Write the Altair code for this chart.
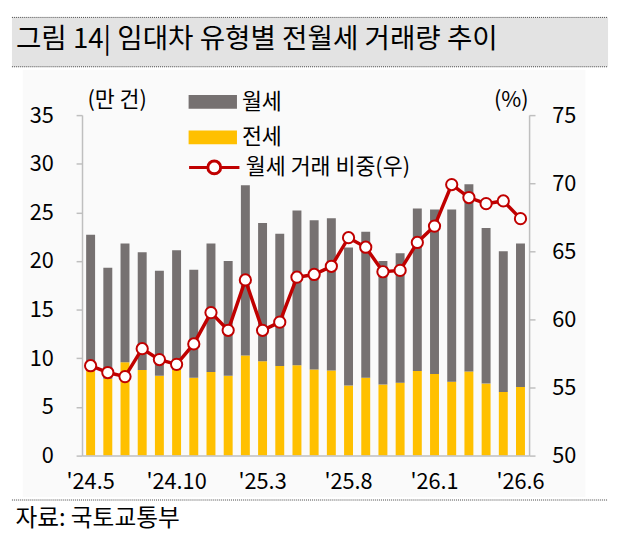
import altair as alt
import pandas as pd

FONT = "Noto Sans CJK KR"
GRAY = "#767171"
YELLOW = "#FFC000"
RED = "#C00000"
AXIS_GRAY = "#BFBFBF"

months = ["'24.5", "'24.6", "'24.7", "'24.8", "'24.9", "'24.10", "'24.11", "'24.12",
          "'25.1", "'25.2", "'25.3", "'25.4", "'25.5", "'25.6", "'25.7", "'25.8",
          "'25.9", "'25.10", "'25.11", "'25.12",
          "'26.1", "'26.2", "'26.3", "'26.4", "'26.5", "'26.6"]

# 전세 거래량 (만 건)
jeonse = [8.7, 7.9, 9.6, 8.8, 8.2, 8.8, 8.0, 8.6, 8.2, 10.3, 9.7, 9.2, 9.3,
          8.85, 8.75, 7.2, 8.0, 7.3, 7.5, 8.7, 8.4, 7.6, 8.65, 7.4, 6.55, 7.05]
# 월세 거래량 (만 건)
wolse = [14.0, 11.4, 12.2, 12.1, 10.8, 12.3, 11.1, 13.2, 11.8, 17.5, 14.2, 13.6, 15.9,
         15.35, 15.65, 14.2, 15.0, 12.7, 13.3, 16.7, 16.9, 17.7, 19.25, 16.0, 14.45, 14.75]
# 월세 거래 비중 (%)
share = [56.6, 56.1, 55.8, 57.85, 57.05, 56.7, 58.2, 60.5, 59.2, 62.9, 59.2, 59.8, 63.1,
         63.3, 63.9, 66.0, 65.3, 63.5, 63.6, 65.65, 66.85, 69.9, 68.95, 68.5, 68.7, 67.4]

tick_months = ["'24.5", "'24.10", "'25.3", "'25.8", "'26.1", "'26.6"]
left_ticks = [0, 5, 10, 15, 20, 25, 30, 35]
right_ticks = [50, 55, 60, 65, 70, 75]
series_names = ["월세", "전세"]
line_name = "월세 거래 비중(우)"

rows = []
for m, j, w in zip(months, jeonse, wolse):
    rows.append({"month": m, "type": "전세", "value": j, "ord": 0})
    rows.append({"month": m, "type": "월세", "value": w, "ord": 1})
df_bar = pd.DataFrame(rows)
df_line = pd.DataFrame({"month": months, "share": share, "series": [line_name] * len(months)})
one = pd.DataFrame({"d": [0]})

x_enc = alt.X(
    "month:N", sort=months,
    scale=alt.Scale(paddingInner=0.48, paddingOuter=0.24),
    axis=alt.Axis(values=tick_months, labelAngle=0, labelFontSize=22, labelPadding=16,
                  labelColor="black", ticks=False, domainColor=AXIS_GRAY, domainWidth=1.5,
                  zindex=1,
                  title="자료: 국토교통부", titleX=-68, titleY=64, titleAlign="left",
                  titleBaseline="middle", titleFontSize=24, titleFontWeight="normal",
                  titleColor="black"),
)

bg = alt.Chart(one).mark_rect(color="#FAFAFA").encode(
    x=alt.value(-60), x2=alt.value(510), y=alt.value(-46), y2=alt.value(387))
band = alt.Chart(one).mark_rect(color="#E3E3E3").encode(
    x=alt.value(-71), x2=alt.value(533), y=alt.value(-99), y2=alt.value(-49))
rule_top = alt.Chart(one).mark_rule(color="#444444", strokeDash=[1, 1], strokeWidth=1).encode(
    x=alt.value(-71), x2=alt.value(533), y=alt.value(-99))
rule_mid = alt.Chart(one).mark_rule(color="#444444", strokeDash=[1, 1], strokeWidth=1).encode(
    x=alt.value(-71), x2=alt.value(533), y=alt.value(-49))
rule_bot = alt.Chart(one).mark_rule(color="#444444", strokeDash=[1, 1], strokeWidth=1).encode(
    x=alt.value(-71), x2=alt.value(533), y=alt.value(390))

bars = alt.Chart(df_bar).mark_bar().encode(
    x=x_enc,
    y=alt.Y("value:Q", stack="zero",
            scale=alt.Scale(domain=[0, 35], nice=False),
            axis=alt.Axis(values=left_ticks, grid=False, labelFontSize=22, labelPadding=23,
                          labelColor="black", tickSize=6, tickColor=AXIS_GRAY, tickWidth=1.5,
                          domainColor=AXIS_GRAY, domainWidth=1.5, zindex=1,
                          title="(만 건)", titleAngle=0, titleX=5, titleY=-16,
                          titleAlign="left", titleBaseline="middle", titleFontSize=22,
                          titleFontWeight="normal", titleColor="black")),
    color=alt.Color("type:N",
                    scale=alt.Scale(domain=series_names, range=[GRAY, YELLOW]),
                    legend=alt.Legend(title=None, orient="none", legendX=108, legendY=-38,
                                      direction="vertical",
                                      symbolType="M-1,-0.286H1V0.286H-1Z", symbolSize=2401,
                                      symbolStrokeWidth=0, labelFontSize=22, labelOffset=5,
                                      rowPadding=-2, labelColor="black")),
    order=alt.Order("ord:Q", sort="ascending"),
)

line = alt.Chart(df_line).mark_line(strokeWidth=3.5).encode(
    x=alt.X("month:N", sort=months),
    y=alt.Y("share:Q", scale=alt.Scale(domain=[50, 75], nice=False),
            axis=alt.Axis(orient="right", values=right_ticks, grid=False, labelFontSize=22,
                          labelPadding=17, labelColor="black", tickSize=6,
                          tickColor=AXIS_GRAY, tickWidth=1.5,
                          domainColor=AXIS_GRAY, domainWidth=1.5, zindex=1,
                          title="(%)", titleAngle=0, titleX=-1, titleY=-16,
                          titleAlign="right", titleBaseline="middle", titleFontSize=22,
                          titleFontWeight="normal", titleColor="black")),
    stroke=alt.Stroke("series:N", scale=alt.Scale(domain=[line_name], range=[RED]),
                      legend=alt.Legend(title=None, orient="none", legendX=107, legendY=26,
                                        symbolType="M-1,0H-0.255M0.255,0H1M-0.255,0A0.255,0.255,0,1,1,0.255,0A0.255,0.255,0,1,1,-0.255,0",
                                        symbolSize=2601, symbolStrokeWidth=3,
                                        symbolFillColor="white", labelFontSize=22,
                                        labelOffset=5, labelLimit=400, labelColor="black")),
)

points = alt.Chart(df_line).mark_point(shape="circle", filled=True, fill="white",
                                       stroke=RED, strokeWidth=2, size=130, opacity=1).encode(
    x=alt.X("month:N", sort=months),
    y=alt.Y("share:Q"),
)

chart = alt.layer(
    bg, band, rule_top, rule_mid, rule_bot, bars, alt.layer(line, points)
).resolve_scale(y="independent").properties(
    width=453, height=345,
    autosize=alt.AutoSizeParams(type="none"),
    padding={"left": 75, "top": 105, "right": 83, "bottom": 84},
    title=alt.TitleParams(text="그림 14| 임대차 유형별 전월세 거래량 추이", anchor="start",
                          fontSize=28, fontWeight="normal", color="black", dx=-67, dy=37,
                          frame="group", offset=0),
    background="white",
).configure(font=FONT).configure_view(stroke=None)

chart.save("out.html", embed_options={"renderer": "svg", "actions": False})
